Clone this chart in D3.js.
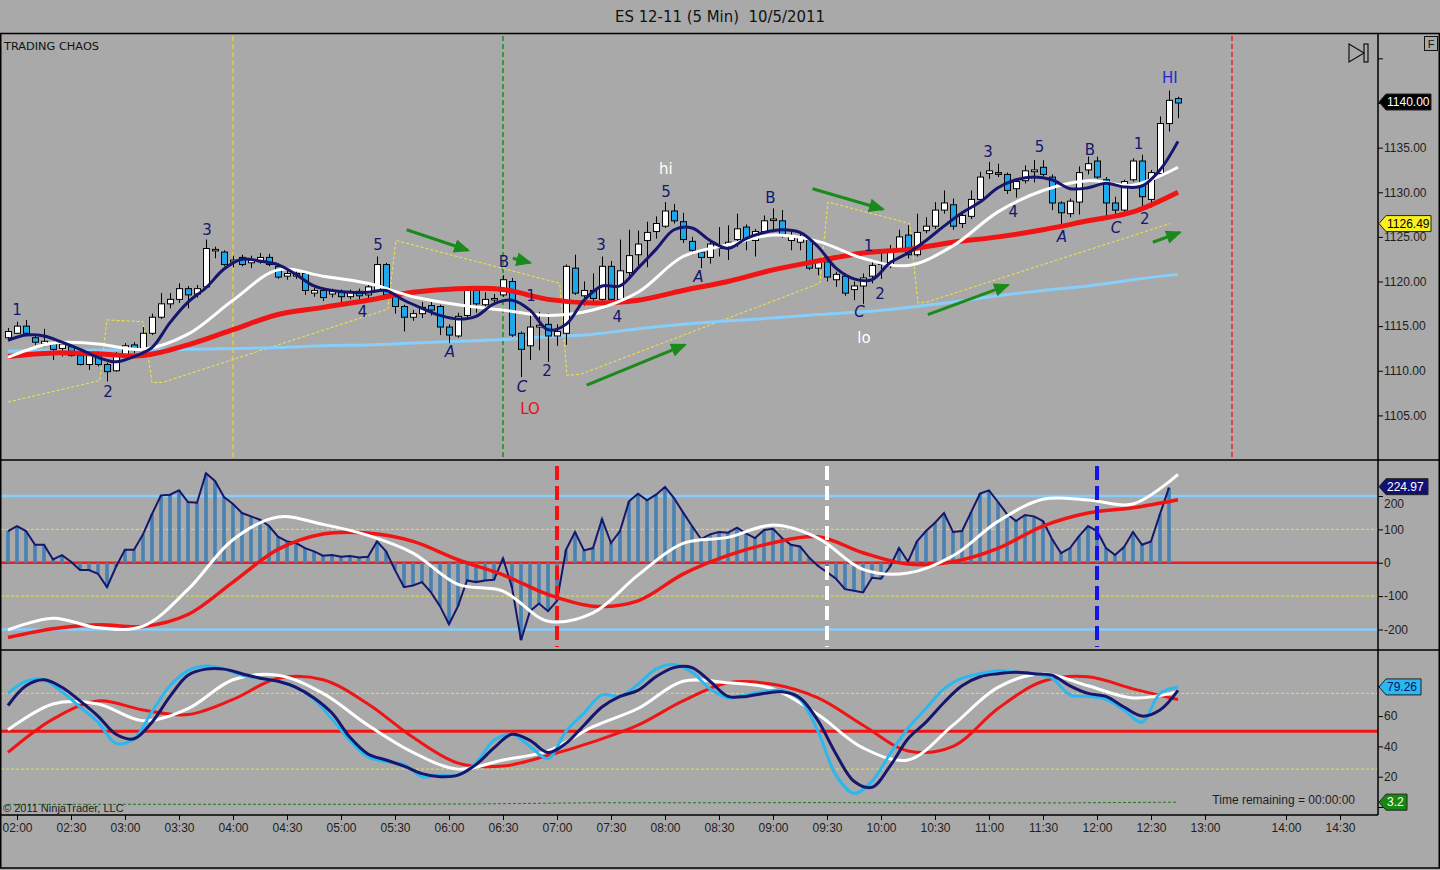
<!DOCTYPE html>
<html>
<head>
<meta charset="utf-8">
<script src="https://cdn.jsdelivr.net/npm/d3@7"></script>
<style>
  body { margin: 0; background: #a9a9a9; }
  svg { display: block; }
  text { font-family: "Liberation Sans", Arial, sans-serif; }
</style>
</head>
<body>
<svg id="chart" width="1440" height="870"></svg>
<script>
// ---- price bars (5 min), bar 0 = 01:55 ----
var candleOpen = [1113.7,1114.2,1115.0,1113.7,1113.0,1113.1,1112.5,1112.7,1111.7,1110.7,
1111.9,1110.7,1110.0,1111.8,1112.9,1112.3,1114.2,1116.0,1117.5,1118.0,
1119.2,1118.6,1119.4,1123.5,1123.3,1122.2,1122.7,1122.1,1122.2,1122.7,
1121.7,1120.6,1120.6,1120.9,1118.7,1119.0,1118.6,1118.9,1118.3,1118.9,
1118.5,1119.0,1121.9,1118.5,1117.2,1116.0,1116.4,1117.3,1117.2,1114.9,
1113.9,1116.2,1119.0,1117.4,1118.0,1118.5,1120.0,1114.2,1112.8,1114.9,
1115.2,1113.9,1114.2,1121.5,1118.4,1119.0,1118.0,1121.7,1118.0,1121.0,
1123.0,1124.6,1125.6,1126.2,1127.9,1126.7,1124.5,1123.3,1122.7,1123.7,
1124.0,1124.7,1126.1,1124.6,1125.6,1126.9,1126.8,1124.6,1124.4,1124.6,
1121.5,1122.2,1120.2,1120.6,1119.1,1119.5,1120.6,1121.9,1121.8,1123.6,
1125.2,1123.0,1125.7,1126.2,1128.0,1128.6,1126.5,1127.3,1129.2,1132.1,
1132.2,1132.0,1130.4,1131.3,1132.3,1132.8,1131.7,1128.8,1127.6,1128.9,
1132.5,1133.5,1131.4,1128.8,1128.0,1131.4,1133.5,1129.2,1132.1,1137.7,
1140.5];
var candleHigh = [1114.8,1115.5,1115.7,1113.9,1114.7,1113.3,1113.2,1112.9,1111.9,1111.9,
1112.1,1110.9,1112.1,1113.1,1113.2,1114.9,1116.4,1118.7,1118.7,1119.8,
1119.5,1119.6,1124.7,1123.9,1123.5,1122.9,1123.0,1122.9,1123.2,1123.1,
1122.0,1121.3,1121.2,1121.1,1119.3,1119.3,1119.2,1119.1,1119.1,1119.2,
1119.6,1122.8,1122.1,1118.7,1117.4,1116.8,1117.7,1117.7,1117.4,1115.2,
1116.5,1119.1,1119.2,1118.8,1118.6,1120.7,1120.4,1114.4,1116.6,1116.6,
1116.4,1115.2,1121.9,1123.0,1120.0,1120.9,1122.8,1122.3,1124.7,1125.8,
1125.7,1126.7,1127.3,1128.9,1128.7,1127.7,1125.0,1123.5,1124.5,1126.1,
1126.3,1127.6,1126.4,1125.9,1127.4,1128.2,1128.0,1125.6,1125.3,1124.8,
1122.5,1122.7,1121.1,1120.9,1120.0,1120.9,1122.2,1123.5,1124.1,1125.8,
1126.3,1127.6,1127.2,1128.9,1130.2,1129.3,1127.8,1130.2,1132.3,1133.4,
1133.2,1132.2,1131.4,1133.0,1133.6,1133.6,1132.0,1129.0,1129.3,1132.9,
1134.0,1134.0,1131.7,1129.5,1131.4,1133.8,1134.2,1132.5,1138.5,1141.4,
1140.7];
var candleLow = [1113.4,1114.1,1114.0,1112.9,1112.7,1111.2,1111.6,1111.6,1110.6,1110.1,
1110.5,1108.8,1109.9,1111.5,1112.0,1112.1,1114.0,1115.8,1117.0,1117.6,
1117.0,1118.2,1119.2,1122.6,1121.7,1121.6,1121.7,1121.5,1122.0,1121.7,
1120.3,1120.2,1120.3,1118.5,1118.3,1117.8,1118.2,1117.7,1118.0,1118.0,
1117.8,1118.8,1118.3,1116.4,1114.4,1115.6,1115.9,1116.2,1114.0,1113.1,
1113.7,1116.0,1116.5,1117.2,1117.6,1118.3,1113.8,1109.3,1111.2,1112.3,
1111.0,1112.8,1112.9,1118.5,1117.3,1117.6,1117.8,1117.7,1117.8,1120.4,
1121.8,1121.6,1124.8,1126.0,1126.5,1124.3,1123.0,1121.5,1122.0,1122.8,
1122.4,1123.9,1123.5,1122.8,1125.3,1125.5,1124.9,1123.5,1123.5,1121.3,
1120.7,1120.0,1119.4,1118.4,1117.9,1117.5,1119.8,1120.3,1121.5,1123.4,
1122.6,1122.8,1125.4,1125.9,1127.6,1125.8,1126.0,1127.0,1128.9,1131.5,
1131.7,1129.8,1129.4,1131.0,1131.1,1131.8,1128.0,1126.3,1127.2,1127.5,
1132.0,1131.5,1127.3,1127.4,1127.3,1131.2,1128.4,1128.3,1132.0,1136.8,
1138.3];
var candleClose = [1114.4,1115.0,1114.2,1113.2,1113.3,1112.4,1113.0,1111.7,1110.7,1111.7,
1110.7,1109.9,1111.9,1112.8,1112.3,1114.2,1116.0,1117.5,1118.0,1119.2,
1118.5,1119.2,1123.7,1123.6,1121.9,1122.4,1121.9,1122.4,1122.7,1121.9,
1120.5,1120.9,1120.9,1119.0,1119.0,1118.2,1118.9,1118.3,1118.8,1118.4,
1119.4,1121.9,1118.5,1117.2,1116.0,1116.4,1117.1,1116.8,1114.9,1114.0,
1116.1,1119.0,1117.5,1118.0,1118.1,1120.2,1114.0,1112.4,1114.9,1115.1,
1113.9,1114.4,1121.7,1118.7,1119.0,1118.1,1121.7,1118.0,1121.2,1122.9,
1124.2,1125.5,1126.5,1127.9,1126.8,1124.7,1123.5,1122.7,1124.2,1124.0,
1124.4,1125.9,1124.8,1125.6,1126.8,1127.0,1125.1,1125.1,1124.9,1121.5,
1122.2,1120.5,1120.8,1118.7,1119.5,1120.4,1121.8,1122.1,1123.5,1125.0,
1123.0,1125.5,1126.2,1128.0,1128.8,1126.2,1127.4,1129.2,1131.7,1132.4,
1132.0,1130.2,1131.2,1132.4,1132.5,1132.0,1128.8,1127.7,1129.0,1132.2,
1133.2,1131.7,1128.8,1128.0,1131.2,1133.5,1129.5,1132.2,1137.7,1140.3,
1140.0];

// moving averages (navy every 2 bars, others every 5 bars)
var maFast = [1113.4,1114.0,1113.9,1113.2,1112.4,1111.5,1111.0,1111.6,1112.6,1115.4,
1117.7,1119.3,1121.4,1122.5,1122.3,1121.9,1120.8,1119.5,1119.0,1118.8,
1118.8,1119.0,1117.9,1117.0,1116.2,1115.8,1116.1,1117.5,1117.9,1116.8,
1114.6,1115.2,1117.9,1119.5,1119.5,1121.5,1123.6,1125.8,1126.0,1124.6,
1123.7,1124.8,1125.5,1125.8,1125.5,1123.9,1121.5,1120.3,1120.2,1122.1,
1123.2,1124.6,1126.2,1127.7,1128.9,1130.5,1131.4,1131.7,1131.4,1130.4,
1130.5,1131.0,1130.6,1130.7,1132.5,1135.7];
var maMid = [1111.5,1113.1,1113.0,1112.4,1114.1,1117.9,1121.3,1120.6,1119.8,1118.3,
1117.4,1116.8,1116.2,1116.8,1118.8,1122.8,1124.1,1125.2,1124.5,1122.6,
1121.8,1124.0,1127.8,1130.2,1131.3,1130.8,1132.8];
var maSlow = [1111.6,1112.0,1111.9,1111.7,1112.9,1114.6,1116.3,1117.1,1117.9,1118.8,
1119.2,1119.1,1118.0,1117.6,1117.9,1119.0,1120.0,1121.3,1122.3,1123.2,
1123.6,1124.4,1125.0,1125.8,1126.8,1127.8,1130.0];
var maLong = [1112.2,1112.3,1112.3,1112.4,1112.4,1112.5,1112.6,1112.8,1112.9,1113.1,
1113.3,1113.5,1113.8,1114.1,1114.7,1115.2,1115.6,1115.9,1116.3,1116.6,
1117.1,1117.7,1118.4,1119.0,1119.5,1120.2,1120.8];

// yellow channel drawing
var chanBar = [0,10.2,11,15,16,17.2,42.2,43.1,61.3,62.1,63.6,90.2,91.1,100.2,101.1,102.1,129.1];
var chanPrice = [1106.5,1108.9,1115.7,1115.5,1108.7,1108.7,1116.9,1124.6,1119.8,1109.5,1109.6,1119.8,1128.9,1126.5,1117.6,1117.7,1126.49];

// green arrows
var arrowBarFrom = [44.3,56.1,64.3,89.4,102.2,127.2];
var arrowPriceFrom = [1125.8,1122.6,1108.4,1130.4,1116.3,1124.4];
var arrowBarTo = [51.1,58.0,75.2,97.2,111.1,130.2];
var arrowPriceTo = [1123.5,1122.1,1112.9,1128.1,1119.6,1125.5];

// wave labels
var waveText = ["1","2","3","4","5","A","B","1","C","2","LO","3","4","hi","5","A","B","1","C","2","lo","3","4","5","A","B","C","1","2","HI"];
var waveBar = [1.0,11.1,22.1,39.4,41.1,49.1,55.1,58.1,57.1,59.9,58.0,65.9,67.7,73.1,73.1,76.7,84.7,95.6,94.6,96.9,95.1,108.9,111.7,114.6,117.1,120.2,123.1,125.6,126.3,129.1];
var wavePrice = [1116.8,1107.7,1125.8,1116.6,1124.1,1112.1,1122.2,1118.4,1108.2,1110.0,1105.8,1124.1,1116.1,1132.7,1130.1,1120.6,1129.4,1124.0,1116.6,1118.7,1113.7,1134.6,1127.8,1135.1,1125.0,1134.8,1126.0,1135.5,1127.1,1142.9];

// CCI panel
var cciValues = [95,110,95,54,54,10,23,3,-22,-22,
-33,-73,-12,39,39,85,146,202,204,217,
182,180,268,245,197,176,149,139,129,110,
78,64,59,44,34,21,23,18,20,16,
18,64,34,-22,-73,-68,-58,-89,-130,-184,
-130,-53,-58,-53,-51,13,-73,-232,-145,-122,
-145,-114,39,92,37,44,131,59,95,184,
207,187,204,227,194,151,110,71,85,92,
90,105,88,74,98,102,74,54,49,16,
-10,-28,-48,-79,-84,-89,-45,-48,-12,44,
3,64,95,120,149,92,95,151,207,217,
182,146,125,143,139,125,71,29,44,80,
110,95,44,23,47,92,54,64,146,224.97];
var cciFastAvg = [-201,-166,-195,-190,-80,69,137,115,82,29,-65,-85,-175,-150,-37,58,76,113,74,-20,-31,21,124,190,188,176,265];
var cciSlowAvg = [-224,-198,-186,-191,-155,-58,40,86,89,64,9,-36,-95,-130,-114,-34,22,60,78,30,-4,3,43,110,149,165,189];

// stochastics panel
var stochK = [75,83,84,76,66,56,42,45,63,80,
90,93,91,87,85,83,79,71,58,44,
33,30,28,20,21,21,29,44,48,40,
32,50,62,74,73,81,91,94,89,78,
72,74,76,77,71,50,21,9,17,35,
52,65,78,85,88,90,89,88,85,74,
73,71,64,56,75,79.26];
var stochD = [67,80,84,79,70,60,48,45,56,73,
87,91,91,88,85,83,79,72,62,46,
35,31,27,22,20,21,28,39,48,44,
36,42,54,66,73,77,86,92,92,83,
73,73,75,76,72,57,35,17,13,27,
45,56,69,80,86,88,89,88,87,80,
75,73,66,60,64,77];
var stochSlowK = [51,68,68,57,65,84,87,75,54,36,25,31,37,53,65,83,82,78,61,39,31,54,79,88,80,72,76];
var stochSlowD = [36,58,70,64,61,71,85,84,68,46,29,27,34,43,54,70,82,81,72,54,37,40,65,83,86,78,71];
var lowLine = [1.8,1.8,1.8,1.8,2.0,2.8,2.8,2.9,2.7,2.7,3.2];

// axis labels
var timeLabels = ["02:00","02:30","03:00","03:30","04:00","04:30","05:00","05:30","06:00","06:30","07:00","07:30","08:00","08:30","09:00","09:30","10:00","10:30","11:00","11:30","12:00","12:30","13:00","14:00","14:30"];
var timeBars = [1,7,13,19,25,31,37,43,49,55,61,67,73,79,85,91,97,103,109,115,121,127,133,142,148];
var priceTicks = [1105,1110,1115,1120,1125,1130,1135,1140,1145];
var priceTickLabels = ["1105.00","1110.00","1115.00","1120.00","1125.00","1130.00","1135.00","",""];
var cciTicks = [-200,-100,0,100,200];
var cciTickLabels = ["-200","-100","0","100","200"];
var stochTicks = [0,20,40,60,80];
var stochTickLabels = ["","20","40","60",""];

var priceMarkBars = [25,55,136];
var cciMarkBars = [61,91,121];

// ---------------------------------------------------------------
var svg = d3.select("#chart");
var axisX = 1378;
var navy = "#16166e";

var x = d3.scaleLinear().domain([0, 130]).range([8, 1178]);
var yP = d3.scaleLinear().domain([1105, 1140]).range([415.4, 103]);
var yC = d3.scaleLinear().domain([-200, 200]).range([629.5, 496]);
var yS = d3.scaleLinear().domain([0, 100]).range([807, 655.5]);

svg.append("rect").attr("width", 1440).attr("height", 870).attr("fill", "#a9a9a9");

var defs = svg.append("defs");
function clip(id, y0, y1) {
  defs.append("clipPath").attr("id", id)
    .append("rect").attr("x", 1).attr("y", y0).attr("width", axisX - 1).attr("height", y1 - y0);
}
clip("cp", 35, 459);
clip("cc", 461, 649);
clip("cs", 651, 814);

defs.append("marker").attr("id", "ahead")
  .attr("markerUnits", "userSpaceOnUse")
  .attr("viewBox", "0 0 14 12").attr("refX", 12).attr("refY", 6)
  .attr("markerWidth", 16).attr("markerHeight", 14).attr("orient", "auto")
  .append("path").attr("d", "M0,0 L14,6 L0,12 Z").attr("fill", "#1a8a1a");

function stepLine(step, yScale, curve) {
  return d3.line()
    .x(function(d, k) { return x(k * step); })
    .y(function(d) { return yScale(d); })
    .curve(curve || d3.curveCatmullRom.alpha(0.5));
}

function hline(g, yv, color, width, dash) {
  g.append("line").attr("x1", 1).attr("x2", axisX).attr("y1", yv).attr("y2", yv)
    .attr("stroke", color).attr("stroke-width", width)
    .attr("stroke-dasharray", dash || null);
}

// ---------------- price panel ----------------
var gp = svg.append("g").attr("clip-path", "url(#cp)");
var markColors = ["#e8cc48", "#1f8a1f", "#e02828"];
priceMarkBars.forEach(function(b, k) {
  gp.append("line").attr("x1", x(b)).attr("x2", x(b)).attr("y1", 36).attr("y2", 458)
    .attr("stroke", markColors[k]).attr("stroke-width", 1.5).attr("stroke-dasharray", "5,3");
});

gp.append("path")
  .datum(chanBar.map(function(b, k) { return [b, chanPrice[k]]; }))
  .attr("d", d3.line().x(function(d) { return x(d[0]); }).y(function(d) { return yP(d[1]); }))
  .attr("fill", "none").attr("stroke", "#f2e840").attr("stroke-width", 1).attr("stroke-dasharray", "3,2");

gp.append("path").datum(maLong).attr("d", stepLine(5, yP))
  .attr("fill", "none").attr("stroke", "#87cefa").attr("stroke-width", 3);

// candles
var bars = gp.selectAll("g.bar").data(candleOpen).enter().append("g");
bars.append("line")
  .attr("x1", function(d, i) { return x(i) + 0.5; })
  .attr("x2", function(d, i) { return x(i) + 0.5; })
  .attr("y1", function(d, i) { return yP(candleHigh[i]); })
  .attr("y2", function(d, i) { return yP(candleLow[i]); })
  .attr("stroke", "#000").attr("stroke-width", 1);
bars.append("rect")
  .attr("x", function(d, i) { return x(i) - 2.5; })
  .attr("width", 6)
  .attr("y", function(d, i) { return yP(Math.max(d, candleClose[i])); })
  .attr("height", function(d, i) { return Math.max(1.5, Math.abs(yP(d) - yP(candleClose[i]))); })
  .attr("fill", function(d, i) { return candleClose[i] >= d ? "#ffffff" : "#1fa7ec"; })
  .attr("stroke", "#000").attr("stroke-width", 1);

gp.append("path").datum(maSlow).attr("d", stepLine(5, yP))
  .attr("fill", "none").attr("stroke", "#f01414").attr("stroke-width", 5);
gp.append("path").datum(maMid).attr("d", stepLine(5, yP))
  .attr("fill", "none").attr("stroke", "#ffffff").attr("stroke-width", 3);
gp.append("path").datum(maFast).attr("d", stepLine(2, yP))
  .attr("fill", "none").attr("stroke", navy).attr("stroke-width", 3);

// arrows
arrowBarFrom.forEach(function(b, k) {
  gp.append("line")
    .attr("x1", x(b)).attr("y1", yP(arrowPriceFrom[k]))
    .attr("x2", x(arrowBarTo[k])).attr("y2", yP(arrowPriceTo[k]))
    .attr("stroke", "#1a8a1a").attr("stroke-width", 3)
    .attr("marker-end", "url(#ahead)");
});

// wave labels
waveText.forEach(function(t, k) {
  var col = navy, style = "normal";
  if (t === "LO") col = "#e81010";
  else if (t === "HI") col = "#1e28d8";
  else if (t === "hi" || t === "lo") col = "#ffffff";
  if (t === "A" || t === "C") style = "italic";
  gp.append("text").attr("x", x(waveBar[k])).attr("y", yP(wavePrice[k]))
    .attr("dy", "0.36em").attr("text-anchor", "middle")
    .style("font-family", "'DejaVu Sans', sans-serif").style("font-size", "15px")
    .style("font-style", style).attr("fill", col).text(t);
});

// ---------------- CCI panel ----------------
var gc = svg.append("g").attr("clip-path", "url(#cc)");
hline(gc, yC(200), "#87cefa", 2.5);
hline(gc, yC(-200), "#87cefa", 2.5);
hline(gc, yC(100), "#e8e040", 1, "3,2");
hline(gc, yC(-100), "#e8e040", 1, "3,2");
hline(gc, yC(0), "#ee1c1c", 2.5);

gc.selectAll("rect.h").data(cciValues).enter().append("rect")
  .attr("x", function(d, i) { return x(i) - 1.8; })
  .attr("width", 3.6)
  .attr("y", function(d) { return Math.min(yC(d), yC(0)); })
  .attr("height", function(d) { return Math.abs(yC(d) - yC(0)); })
  .attr("fill", "#4682b4");
gc.append("path").datum(cciValues).attr("d", stepLine(1, yC, d3.curveLinear))
  .attr("fill", "none").attr("stroke", navy).attr("stroke-width", 2);
gc.append("path").datum(cciSlowAvg).attr("d", stepLine(5, yC))
  .attr("fill", "none").attr("stroke", "#f01414").attr("stroke-width", 3.5);
gc.append("path").datum(cciFastAvg).attr("d", stepLine(5, yC))
  .attr("fill", "none").attr("stroke", "#ffffff").attr("stroke-width", 3);

var cciMarkColors = ["#f01414", "#ffffff", "#1414e8"];
cciMarkBars.forEach(function(b, k) {
  gc.append("line").attr("x1", x(b)).attr("x2", x(b)).attr("y1", 466).attr("y2", 647)
    .attr("stroke", cciMarkColors[k]).attr("stroke-width", 4).attr("stroke-dasharray", "14,6");
});

// ---------------- Stochastics panel ----------------
var gs = svg.append("g").attr("clip-path", "url(#cs)");
hline(gs, yS(75), "#e8e040", 1, "3,2");
hline(gs, yS(25), "#e8e040", 1, "3,2");
hline(gs, yS(50), "#f01414", 3);
gs.append("path").datum(lowLine).attr("d", stepLine(13, yS, d3.curveLinear))
  .attr("fill", "none").attr("stroke", "#1a7a1a").attr("stroke-width", 1).attr("stroke-dasharray", "3,2");
gs.append("path").datum(stochSlowD).attr("d", stepLine(5, yS))
  .attr("fill", "none").attr("stroke", "#f01414").attr("stroke-width", 3);
gs.append("path").datum(stochSlowK).attr("d", stepLine(5, yS))
  .attr("fill", "none").attr("stroke", "#ffffff").attr("stroke-width", 3);
gs.append("path").datum(stochK).attr("d", stepLine(2, yS))
  .attr("fill", "none").attr("stroke", "#2ab8f0").attr("stroke-width", 3);
gs.append("path").datum(stochD).attr("d", stepLine(2, yS))
  .attr("fill", "none").attr("stroke", navy).attr("stroke-width", 3);

// ---------------- frame & axes ----------------
var frame = svg.append("g").attr("stroke", "#000").attr("stroke-width", 1.5).attr("fill", "none");
frame.append("rect").attr("x", 0.75).attr("y", 33.5).attr("width", 1438.5).attr("height", 834.5);
frame.append("line").attr("x1", 0).attr("x2", 1440).attr("y1", 460).attr("y2", 460);
frame.append("line").attr("x1", 0).attr("x2", 1440).attr("y1", 650).attr("y2", 650);
frame.append("line").attr("x1", 0).attr("x2", axisX).attr("y1", 815).attr("y2", 815);
frame.append("line").attr("x1", axisX).attr("x2", axisX).attr("y1", 34).attr("y2", 815);

function styleAxis(g) {
  g.select(".domain").remove();
  g.selectAll("line").attr("stroke", "#000");
  g.selectAll("text").attr("fill", "#1e1e1e")
    .style("font-family", "'Liberation Sans', Arial, sans-serif").style("font-size", "12px");
}
svg.append("g").attr("transform", "translate(" + axisX + ",0)")
  .call(d3.axisRight(yP).tickValues(priceTicks).tickSize(5).tickPadding(1)
    .tickFormat(function(d, k) { return priceTickLabels[k]; }))
  .call(styleAxis);
var cciAxis = svg.append("g").attr("transform", "translate(" + axisX + ",0)")
  .call(d3.axisRight(yC).tickValues(cciTicks).tickSize(5).tickPadding(1)
    .tickFormat(function(d, k) { return cciTickLabels[k]; }))
  .call(styleAxis);
// the top CCI label sits just under the value tag, as in the original
cciAxis.selectAll(".tick text").filter(function(d) { return d === 200; }).attr("dy", "0.95em");
svg.append("g").attr("transform", "translate(" + axisX + ",0)")
  .call(d3.axisRight(yS).tickValues(stochTicks).tickSize(5).tickPadding(1)
    .tickFormat(function(d, k) { return stochTickLabels[k]; }))
  .call(styleAxis);
svg.append("g").attr("transform", "translate(0,815)")
  .call(d3.axisBottom(x).tickValues(timeBars).tickSize(5).tickPadding(3)
    .tickFormat(function(d, k) { return timeLabels[k]; }))
  .call(styleAxis);

// value tags on the right axis
function tag(yv, text, fill, color, w) {
  svg.append("path")
    .attr("d", "M" + (axisX + 1) + "," + yv + " L" + (axisX + 8) + "," + (yv - 8) +
      " H" + (axisX + w) + " V" + (yv + 8) + " H" + (axisX + 8) + " Z")
    .attr("fill", fill).attr("stroke", "#222").attr("stroke-width", 1);
  svg.append("text").attr("x", axisX + 9).attr("y", yv).attr("dy", "0.36em")
    .attr("fill", color).style("font-size", "12px").text(text);
}
var lastClose = candleClose[candleClose.length - 1];
tag(yP(lastClose) - 1, d3.format(".2f")(lastClose), "#000", "#fff", 53);
tag(yP(chanPrice[chanPrice.length - 1]), d3.format(".2f")(chanPrice[chanPrice.length - 1]), "#f8f020", "#000", 53);
tag(yC(cciValues[cciValues.length - 1]) - 1, d3.format(".2f")(cciValues[cciValues.length - 1]), "#101078", "#fff", 50);
tag(yS(stochK[stochK.length - 1]), d3.format(".2f")(stochK[stochK.length - 1]), "#2ab8f0", "#101060", 43);
tag(yS(lowLine[lowLine.length - 1]), lowLine[lowLine.length - 1], "#148a14", "#fff", 29);

// texts
svg.append("text").attr("x", 720).attr("y", 22).attr("text-anchor", "middle")
  .style("font-family", "'DejaVu Sans Condensed', 'DejaVu Sans', sans-serif").style("font-size", "15px")
  .attr("fill", "#111").attr("textLength", 210).attr("lengthAdjust", "spacingAndGlyphs")
  .text("ES 12-11 (5 Min)\u00a0\u00a010/5/2011");
svg.append("text").attr("x", 4).attr("y", 50)
  .style("font-family", "'DejaVu Sans Condensed', 'DejaVu Sans', sans-serif").style("font-size", "11px")
  .attr("fill", "#111").attr("textLength", 95).attr("lengthAdjust", "spacingAndGlyphs")
  .text("TRADING CHAOS");
svg.append("text").attr("x", 3).attr("y", 812).style("font-size", "11px").attr("fill", "#1e1e1e")
  .text("\u00a9 2011 NinjaTrader, LLC");
svg.append("text").attr("x", 1355).attr("y", 804).attr("text-anchor", "end").style("font-size", "12px")
  .attr("fill", "#1e1e1e").text("Time remaining = 00:00:00");

// scroll-to-end icon and F box
svg.append("path").attr("d", "M1349,44 L1364,53 L1349,62 Z").attr("fill", "none").attr("stroke", "#111").attr("stroke-width", 1.2);
svg.append("rect").attr("x", 1364).attr("y", 44).attr("width", 4).attr("height", 18).attr("fill", "none").attr("stroke", "#111").attr("stroke-width", 1.2);
svg.append("rect").attr("x", 1424.5).attr("y", 36.5).attr("width", 13).attr("height", 14).attr("fill", "none").attr("stroke", "#111");
svg.append("text").attr("x", 1431).attr("y", 48).attr("text-anchor", "middle").style("font-size", "11px").attr("fill", "#111").text("F");
</script>
</body>
</html>
